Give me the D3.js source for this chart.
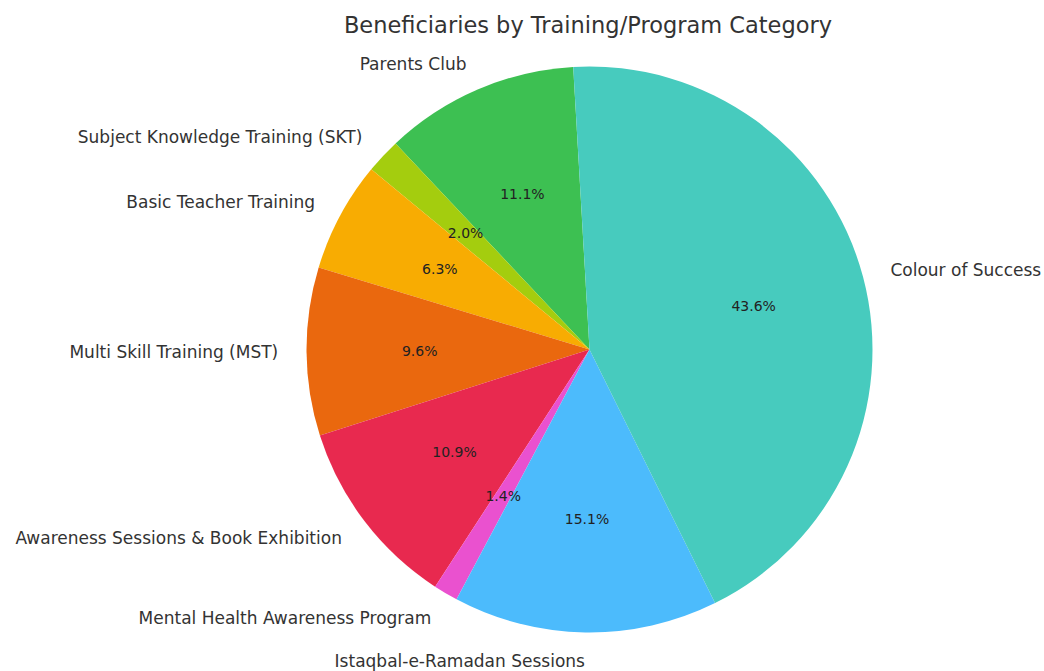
<!DOCTYPE html>
<html>
<head>
<meta charset="utf-8">
<script src="https://cdn.jsdelivr.net/npm/d3@7"></script>
<style>
  body { margin: 0; background: #fff; }
  text { font-family: "DejaVu Sans", sans-serif; }
</style>
</head>
<body>
<svg id="chart" width="1044" height="671"></svg>
<script>
var categories = [
  'Parents Club',
  'Subject Knowledge Training (SKT)',
  'Basic Teacher Training',
  'Multi Skill Training (MST)',
  'Awareness Sessions & Book Exhibition',
  'Mental Health Awareness Program',
  'Istaqbal-e-Ramadan Sessions',
  'Colour of Success'
];
var shares = [11.1, 2.0, 6.3, 9.6, 10.9, 1.4, 15.1, 43.6];
var colors = ['#3dc052', '#a4cd0e', '#f8ac02', '#ea680e', '#e8294f', '#ea51cf', '#4cbbfc', '#47cbbe'];

var svg = d3.select('#chart'),
    cx = 589.5,
    cy = 349.5,
    radius = 283,
    startDeg = 93.3; // counter-clockwise from 3 o'clock, like the original

svg.append('text')
    .attr('x', 588)
    .attr('y', 33)
    .attr('text-anchor', 'middle')
    .attr('font-size', 22.5)
    .attr('fill', '#333')
    .text('Beneficiaries by Training/Program Category');

var g = svg.append('g')
    .attr('transform', 'translate(' + cx + ',' + cy + ')');

// d3 angles: 0 at top, clockwise. Going backwards gives counter-clockwise slices
var a0 = (90 - startDeg) * Math.PI / 180;
var pie = d3.pie()
    .sort(null)
    .value(function (d) { return d; })
    .startAngle(a0)
    .endAngle(a0 - 2 * Math.PI);

var arc = d3.arc().innerRadius(0).outerRadius(radius);
var pctArc = d3.arc().innerRadius(radius * 0.6).outerRadius(radius * 0.6);

var slices = pie(shares);

g.selectAll('path.slice')
    .data(slices)
    .enter()
    .append('path')
    .attr('class', 'slice')
    .attr('d', arc)
    .attr('fill', function (d, i) { return colors[i]; });

g.selectAll('text.pct')
    .data(slices)
    .enter()
    .append('text')
    .attr('class', 'pct')
    .attr('transform', function (d) { return 'translate(' + pctArc.centroid(d) + ')'; })
    .attr('text-anchor', 'middle')
    .attr('dominant-baseline', 'central')
    .attr('font-size', 14)
    .attr('fill', '#222')
    .text(function (d) { return d.data.toFixed(1) + '%'; });

g.selectAll('text.label')
    .data(slices)
    .enter()
    .append('text')
    .attr('class', 'label')
    .attr('x', function (d) { return Math.sin((d.startAngle + d.endAngle) / 2) * radius * 1.1; })
    .attr('y', function (d) { return -Math.cos((d.startAngle + d.endAngle) / 2) * radius * 1.1; })
    .attr('text-anchor', function (d) {
      return Math.sin((d.startAngle + d.endAngle) / 2) > 0 ? 'start' : 'end';
    })
    .attr('dominant-baseline', 'central')
    .attr('font-size', 17)
    .attr('fill', '#333')
    .text(function (d, i) { return categories[i]; });
</script>
</body>
</html>
